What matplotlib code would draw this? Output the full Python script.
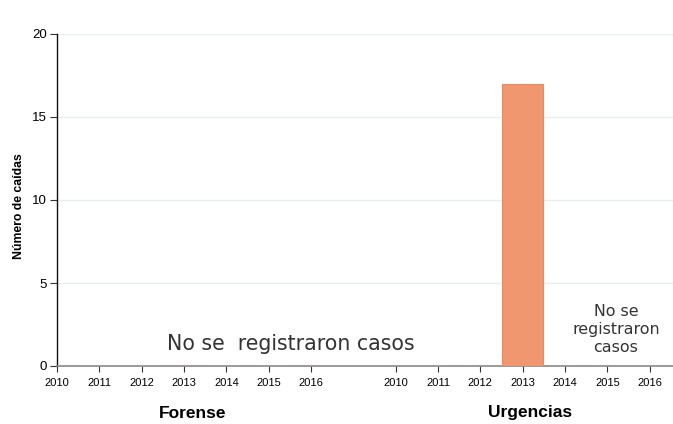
import matplotlib
matplotlib.use("Agg")
import matplotlib.pyplot as plt

years = ["2010", "2011", "2012", "2013", "2014", "2015", "2016"]
groups = ["Forense", "Urgencias"]
forense_vals = [0, 0, 0, 0, 0, 0, 0]
urgencias_vals = [0, 0, 0, 17, 0, 0, 0]
yticks = [0, 5, 10, 15, 20]

fig = plt.figure(figsize=(6.73, 4.24), dpi=100)
ax = fig.add_axes([57/673, 58/424, 1 - 57/673, 332/424])

pos_f = list(range(0, 7))
pos_u = list(range(8, 15))

ax.bar(pos_f, forense_vals, width=0.98, color="#F0976F", edgecolor="#E98A60", linewidth=0.8, zorder=3)
ax.bar(pos_u, urgencias_vals, width=0.98, color="#F0976F", edgecolor="#E98A60", linewidth=0.8, zorder=3)

ax.set_xlim(0, 14.55)
ax.set_ylim(0, 20)
ax.set_yticks(yticks)
ax.set_yticklabels([str(v) for v in yticks], fontsize=9.5, family="Liberation Sans")
ax.set_xticks(pos_f + pos_u)
ax.set_xticklabels(years + years, fontsize=8, family="Liberation Sans")
ax.tick_params(axis="x", length=4, width=0.8, color="#333333", pad=5)
ax.tick_params(axis="y", length=5, width=0.8, color="#333333", pad=2)
ax.grid(axis="y", color="#E8EEF2", linewidth=1, zorder=0)
for s in ["top", "right"]:
    ax.spines[s].set_visible(False)
ax.spines["left"].set_color("#111111")
ax.spines["left"].set_linewidth(1)
ax.spines["bottom"].set_color("#888888")
ax.spines["bottom"].set_linewidth(1.2)

ax.set_ylabel("Número de caídas", fontsize=8.8, fontweight="bold", family="Liberation Sans")
ax.yaxis.set_label_coords(-0.052, 0.482)

ax.text(5.53, 1.35, "No se  registraron casos", fontsize=14.8, family="DejaVu Sans", color="#333333",
        ha="center", va="center", zorder=4)
ax.text(13.2, 2.2, "No se\nregistraron\ncasos", fontsize=11.4, family="DejaVu Sans", color="#333333",
        ha="center", va="center", linespacing=1.22, zorder=4)

fig.text(193/673, 1 - 413/424, groups[0], fontsize=12.5, fontweight="bold", family="Liberation Sans",
         ha="center", va="center")
fig.text(530/673, 1 - 413/424, groups[1], fontsize=12.5, fontweight="bold", family="Liberation Sans",
         ha="center", va="center")

fig.savefig("out.png", dpi=100)
